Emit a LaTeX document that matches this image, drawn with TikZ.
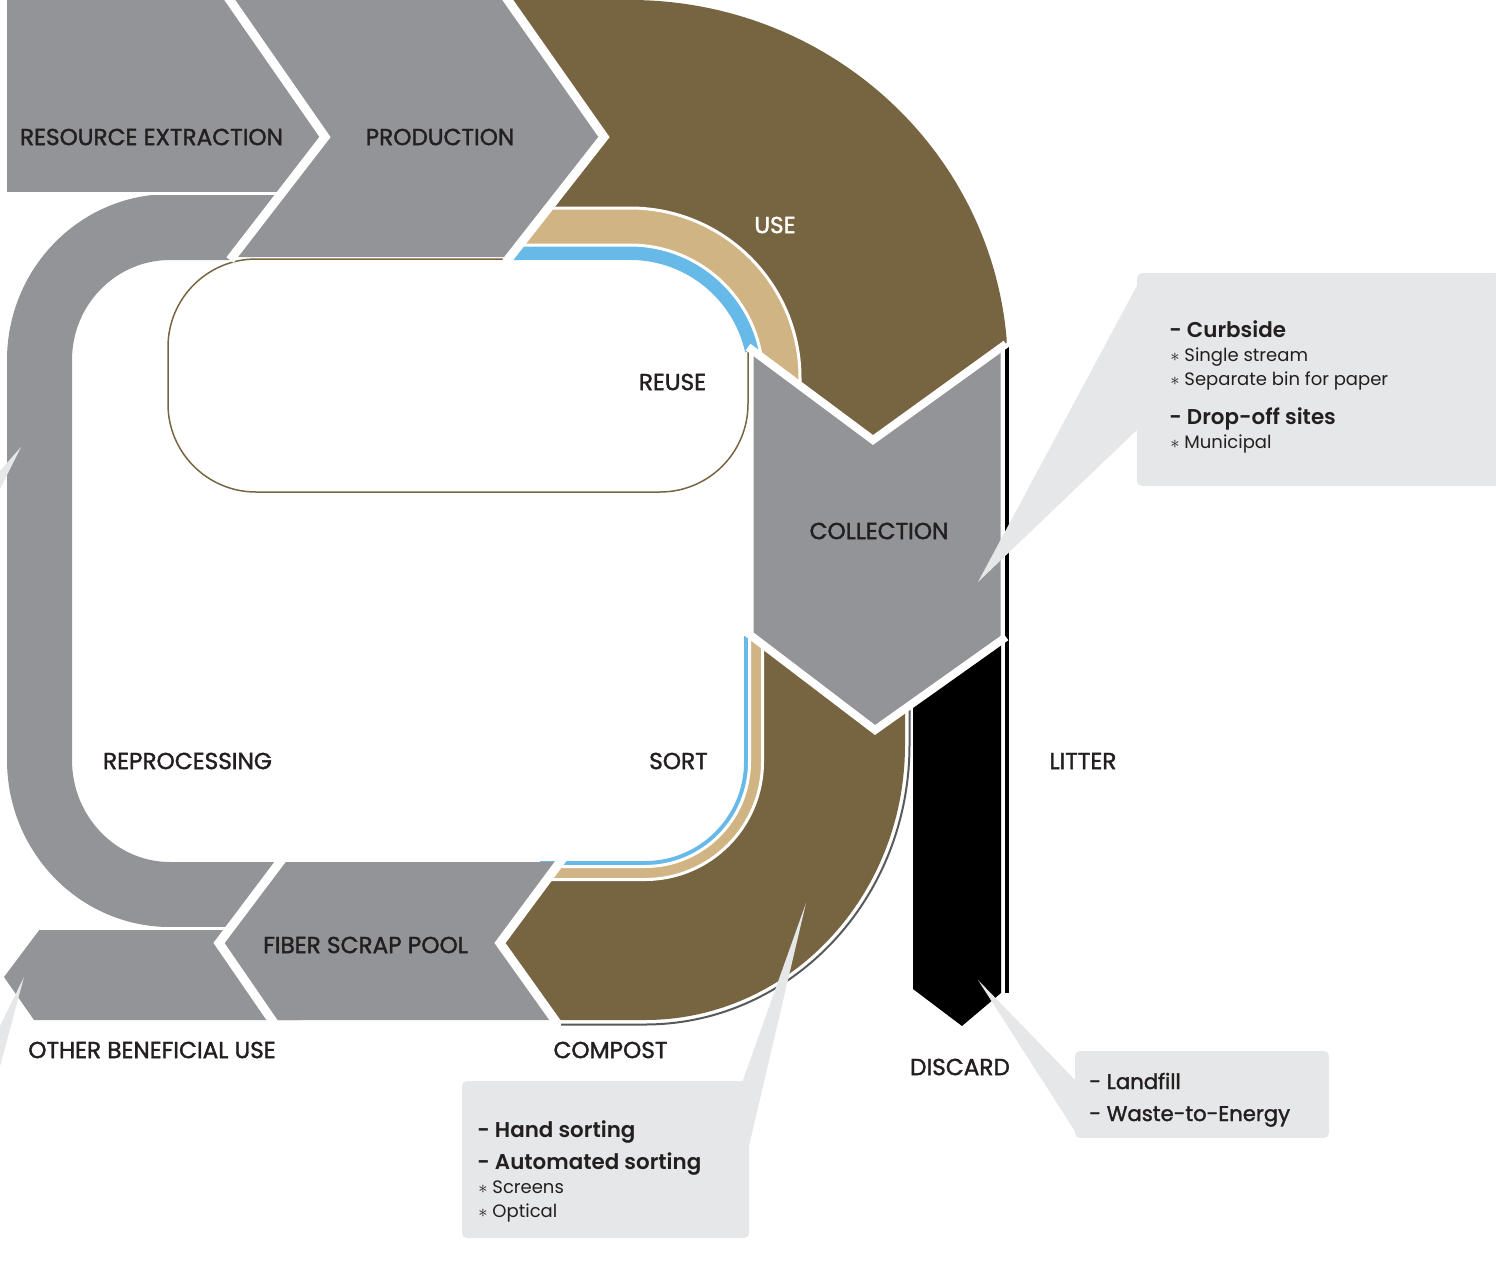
\documentclass[tikz,border=0pt]{standalone}
\usepackage{fontspec}
\setmainfont{Poppins}
\newfontfamily\medfont{Poppins}[FakeBold=1.6]
\IfFontExistsTF{Poppins SemiBold}{\newfontfamily\semifont{Poppins SemiBold}}{\let\semifont\bfseries}
\definecolor{greyband}{HTML}{939498}
\definecolor{brownband}{HTML}{776542}
\definecolor{tanband}{HTML}{D1B483}
\definecolor{blueband}{HTML}{67BAE8}
\definecolor{bubblebg}{HTML}{E6E7E8}
\definecolor{rimgrey}{HTML}{58595B}
\definecolor{ink}{HTML}{231F20}

\begin{document}
\begin{tikzpicture}[x=0.5pt,y=0.5pt,
	whitegap/.style={draw=white, line width=1.5pt},
	seam/.style={draw=white, line width=4.5pt, line join=miter},
	thinseam/.style={draw=white, line width=1.5pt},
	bubble/.style={fill=bubblebg},
	tag/.style={inner sep=0pt, text=ink, font=\medfont\fontsize{11.6}{13}\selectfont},
	headline/.style={anchor=base west, inner sep=0pt, text=ink, font=\semifont\fontsize{10.7}{13}\selectfont},
	medline/.style={anchor=base west, inner sep=0pt, text=ink, font=\medfont\fontsize{10.6}{13}\selectfont},
	subline/.style={anchor=base west, inner sep=0pt, text=ink, font=\fontsize{9}{11}\selectfont}]

	\useasboundingbox (0,0) rectangle (1496,-1281);

	%Reprocessing loop and other beneficial use
	\fill[greyband] (284,-194) -- (170,-194) arc[start angle=90,end angle=180,x radius=163,y radius=166]
		-- (7,-760) arc[start angle=180,end angle=270,x radius=163,y radius=167]
		-- (240,-927) -- (290,-862) -- (170,-862) arc[start angle=270,end angle=180,x radius=98,y radius=102]
		-- (72,-360) arc[start angle=180,end angle=90,x radius=98,y radius=100] -- (233,-260) -- cycle;
	\fill[greyband] (40,-929) -- (300,-929) -- (300,-1020) -- (34,-1020) -- (4,-977) -- cycle;
	\draw[thinseam] (0,-928) -- (240,-928);

	%Litter and discard
	\fill[black] (1004.5,-347) rectangle (1008.5,-993);
	\fill[black] (913,-690) -- (1001,-625) -- (1001,-993) -- (962,-1026) -- (913,-989) -- cycle;

	%Lower bands (sort / compost)
	\draw[rimgrey, line width=1pt] (909.5,-709) -- (909.5,-745)
		arc[start angle=0,end angle=-90,x radius=264.5,y radius=279.5] -- (561,-1024.5);
	\fill[brownband] (762,-636) -- (905,-636) -- (905,-745)
		arc[start angle=0,end angle=-90,x radius=260,y radius=275]
		-- (550,-1020) -- (492,-943) -- (540,-879) -- (645,-879) arc[start angle=-90,end angle=0,radius=117] -- cycle;
	\fill[blueband] (744,-636) -- (749.5,-636) -- (749.5,-762) arc[start angle=0,end angle=-90,radius=104.5]
		-- (540,-866.5) -- (540,-861) -- (645,-861) arc[start angle=-90,end angle=0,radius=99] -- cycle;
	\filldraw[fill=tanband, whitegap] (749.5,-636) -- (762.5,-636) -- (762.5,-762) arc[start angle=0,end angle=-90,radius=117.5]
		-- (540,-879.5) -- (540,-866.5) -- (645,-866.5) arc[start angle=-90,end angle=0,radius=104.5] -- cycle;

	%Upper bands (use / reuse)
	\draw[brownband, line width=0.75pt, rounded corners=44pt] (630,-259) -- (168,-259) -- (168,-492) -- (748,-492) -- (748,-352);
	\fill[brownband] (500,0) -- (630,0) arc[start angle=90,end angle=5.1,x radius=378,y radius=370]
		-- (1006.5,-343) -- (873,-446) -- (800,-392) -- (800,-378) arc[start angle=0,end angle=90,radius=170]
		-- (500,-208) -- cycle;
	\fill[blueband] (500,-245) -- (630,-245) arc[start angle=90,end angle=0,radius=133]
		-- (763,-400) -- (756,-400) -- (756,-352) -- (745.1,-352) arc[start angle=12.7,end angle=90,radius=118] -- (506,-260) -- cycle;
	\filldraw[fill=tanband, whitegap] (500,-208) -- (630,-208) arc[start angle=90,end angle=0,radius=170]
		-- (800,-400) -- (763,-400) -- (763,-378) arc[start angle=0,end angle=90,radius=133] -- (500,-245) -- cycle;

	%Collection
	\filldraw[fill=greyband, draw=white, line width=1.5pt] (752,-350) -- (873,-440) -- (1002,-347)
		-- (1002,-640) -- (875,-730) -- (752,-636) -- cycle;
	\draw[seam, line width=4pt] (748,-347) -- (873,-440) -- (1006,-344);
	\draw[seam, line width=4pt] (745,-631) -- (875,-730) -- (1006,-637);

	%Fiber scrap pool
	\fill[greyband] (280,-862) -- (560,-862) -- (500,-943) -- (555,-1020) -- (272,-1020) -- (219,-943) -- cycle;
	\draw[seam] (283,-858) -- (219,-943) -- (274,-1023);
	\draw[seam] (563,-858) -- (500,-943) -- (557,-1023);

	%Resource extraction and production
	\fill[greyband] (7,0) -- (230,0) -- (325,-137) -- (282,-193) -- (7,-193) -- cycle;
	\draw[thinseam] (0,-193.5) -- (285,-193.5);
	\fill[greyband] (230,0) -- (508,0) -- (604,-137) -- (510,-257) -- (232,-257) -- (325,-137) -- cycle;
	\draw[seam] (227,4) -- (325,-137) -- (230,-260);
	\draw[seam] (505,4) -- (604,-137) -- (506,-262);

	%Callouts
	\fill[bubble, rounded corners=2.5pt] (1137,-273) rectangle (1500,-486);
	\fill[bubble] (1140,-280) -- (978,-582) -- (1140,-427) -- cycle;
	\fill[bubble, rounded corners=2.5pt] (462,-1081) rectangle (749,-1238);
	\fill[bubble] (742,-1083) -- (806,-903) -- (749,-1146) -- cycle;
	\fill[bubble, rounded corners=2.5pt] (1075,-1051) rectangle (1329,-1138);
	\fill[bubble] (978,-980) -- (1078,-1083) -- (1078,-1136) -- cycle;
	\fill[bubble] (21,-447) -- (-2,-473) -- (-2,-493) -- cycle;
	\fill[bubble] (24,-977) -- (-2,-1030) -- (-2,-1074) -- cycle;

	%Labels
	\node[tag] (extraction) at (151.5,-137) {RESOURCE EXTRACTION};
	\node[tag] (production) at (440,-137) {PRODUCTION};
	\node[tag, text=white] (use) at (775,-225) {USE};
	\node[tag] (reuse) at (672.5,-382) {REUSE};
	\node[tag] (collection) at (879,-531) {COLLECTION};
	\node[tag] (reprocessing) at (187.5,-761) {REPROCESSING};
	\node[tag] (sort) at (678.5,-761) {SORT};
	\node[tag] (litter) at (1083,-761) {LITTER};
	\node[tag] (pool) at (365.5,-945) {FIBER SCRAP POOL};
	\node[tag] (beneficial) at (152,-1050) {OTHER BENEFICIAL USE};
	\node[tag] (compost) at (610.5,-1050) {COMPOST};
	\node[tag] (discard) at (960,-1067) {DISCARD};

	%Callout texts
	\node[headline] (curbside) at (1169,-337) {- Curbside};
	\node[subline] (single) at (1170,-361) {$\ast$ Single stream};
	\node[subline] (separate) at (1170,-385) {$\ast$ Separate bin for paper};
	\node[headline] (dropoff) at (1169,-424) {- Drop-off sites};
	\node[subline] (municipal) at (1170,-448) {$\ast$ Municipal};
	\node[headline] (hand) at (477,-1137) {- Hand sorting};
	\node[headline] (automated) at (477,-1169) {- Automated sorting};
	\node[subline] (screens) at (478,-1193) {$\ast$ Screens};
	\node[subline] (optical) at (478,-1217) {$\ast$ Optical};
	\node[medline] (landfill) at (1089,-1089) {- Landfill};
	\node[medline] (energy) at (1089,-1121) {- Waste-to-Energy};
\end{tikzpicture}
\end{document}
